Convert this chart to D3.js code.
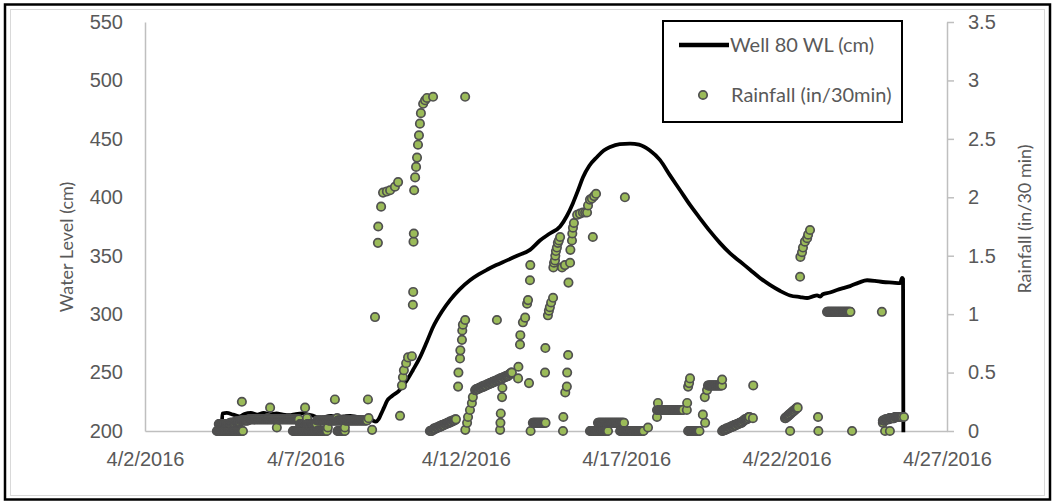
<!DOCTYPE html>
<html>
<head>
<meta charset="utf-8">
<script src="https://cdn.jsdelivr.net/npm/d3@7"></script>
<style>
  html, body { margin: 0; padding: 0; background: #fff; }
  svg { display: block; font-family: Lato, "Open Sans", sans-serif; }
</style>
</head>
<body>
<svg id="chart" width="1054" height="504"></svg>
<script>
// ---- data -------------------------------------------------------------
// Time is given as days (fractional) after 4/2/2016 00:00.
const dateTickLabels = ["4/2/2016", "4/7/2016", "4/12/2016", "4/17/2016", "4/22/2016", "4/27/2016"];
const levelTicks = [200, 250, 300, 350, 400, 450, 500, 550];
const rainTicks = [0, 0.5, 1, 1.5, 2, 2.5, 3, 3.5];

// Well 80 water level, [day, cm]
const wellLevel = [
  [2.40,207],[2.41,215],[2.55,215.5],[2.75,214],[2.95,212.5],[3.10,214.5],[3.30,215.5],[3.50,214],
  [3.70,215.5],[3.90,214.5],[4.10,215],[4.30,214],[4.50,213.5],[4.70,214.5],[4.90,215],[5.10,214],
  [5.30,212.5],[5.45,210.5],[5.60,212],[5.80,213],[6.00,212],[6.20,212.5],[6.40,213],[6.60,212],
  [6.80,211.5],[7.00,211],[7.10,209],[7.20,208],[7.28,210],[7.35,214],[7.45,220],[7.55,226],
  [7.70,230],[7.90,234],[8.17,243.6],[8.35,252],[8.57,263],[8.78,276],[8.98,289],[9.25,302],
  [9.51,312],[9.80,321],[10.13,329],[10.40,334],[10.66,338],[10.95,342],[11.28,346],[11.60,350],
  [12.00,355],[12.31,363],[12.62,369],[12.94,375],[13.15,384],[13.34,395],[13.50,406],[13.65,417],
  [13.85,427],[14.09,434.5],[14.30,440],[14.50,443],[14.80,445.5],[15.12,446],[15.40,445],[15.74,440],
  [16.05,432],[16.36,419],[16.68,406],[17.00,393],[17.30,382],[17.61,371],[17.92,361],[18.24,352],
  [18.55,345],[18.86,338],[19.17,331],[19.48,325],[19.79,320],[20.11,316],[20.42,314.6],[20.64,313.8],
  [20.80,315],[20.95,316],[21.05,315],[21.13,317],[21.35,318.5],[21.57,320.7],[21.80,322.5],
  [21.98,324],[22.25,327],[22.51,329],[22.75,328.5],[23.00,327.5],[23.30,327],[23.54,326.6],[23.60,331],
  [23.63,330],[23.64,199]
];

// Rainfall single readings, [day, in/30min]
const rainReadings = [
  [3.02,0.25],[3.83,0.11],[3.90,0.20],[4.11,0.03],[4.99,0.20],[5.05,0.11],[5.70,0.03],[5.92,0.27],
  [5.99,0.11],[6.23,0.03],[6.95,0.27],[6.97,0.11],[7.08,0.01],[7.95,0.13],
  [7.17,0.975],[7.26,1.61],[7.27,1.75],[7.36,1.92],[7.42,2.04],[7.54,2.05],[7.64,2.06],[7.79,2.09],
  [7.89,2.13],[8.01,0.39],[8.04,0.46],[8.07,0.52],[8.14,0.58],[8.20,0.63],[8.32,0.64],[8.35,1.08],
  [8.36,1.19],[8.37,1.62],[8.38,1.69],[8.39,2.06],[8.42,2.17],[8.45,2.26],[8.48,2.34],[8.51,2.45],
  [8.54,2.53],[8.57,2.63],[8.60,2.72],[8.67,2.80],[8.73,2.83],[8.79,2.85],[8.98,2.86],[9.98,2.86],
  [9.76,0.38],[9.77,0.50],[9.82,0.62],[9.83,0.69],[9.88,0.78],[9.89,0.86],[9.91,0.91],[9.98,0.95],
  [9.985,0.01],[10.04,0.07],[10.07,0.12],[10.13,0.18],[10.19,0.24],[10.22,0.29],[10.97,0.95],
  [11.07,0.01],[11.08,0.07],[11.09,0.15],[11.13,0.29],[11.14,0.37],[11.63,0.45],[11.64,0.55],[11.69,0.74],
  [11.70,0.82],[11.78,0.93],[11.85,0.97],[11.91,1.09],[11.94,1.12],[11.97,0.41],[12.00,1.29],[12.01,1.42],
  [12.02,0],[12.47,0.5],[12.48,0.71],[12.56,0.99],[12.59,1.03],[12.62,1.06],[12.66,1.10],[12.72,1.14],
  [12.73,1.40],[12.75,1.44],[12.78,1.46],[12.79,1.50],[12.81,1.54],[12.84,1.57],[12.87,1.61],[12.90,1.63],
  [12.94,1.66],[13.00,1.40],[13.03,0],[13.04,0.12],[13.09,1.42],[13.10,0.33],[13.15,0.38],[13.16,0.5],
  [13.19,0.65],[13.20,1.27],[13.25,1.44],[13.26,1.55],[13.31,1.63],[13.32,1.69],[13.34,1.74],[13.37,1.78],
  [13.47,1.85],[13.56,1.86],[13.65,1.87],[13.72,1.87],[13.78,1.87],[13.81,1.93],[13.87,1.98],[13.93,1.99],
  [13.96,1.66],[14.00,2.01],[14.06,2.03],[14.96,2.0],
  [15.68,0.03],[15.96,0.12],[15.99,0.24],[16.89,0.18],[16.90,0.24],[16.93,0.38],[16.96,0.41],[16.99,0.45],
  [17.39,0.14],[17.45,0.29],[17.46,0.07],[17.52,0.35],[17.99,0.44],[18.95,0.11],[18.96,0.39],
  [20.11,0],[20.42,1.32],[20.43,1.49],[20.48,1.53],[20.51,1.57],[20.57,1.62],[20.64,1.65],[20.67,1.68],
  [20.73,1.72],[20.98,0.12],[20.99,0],[22.04,0],[22.97,1.02],[23.00,0.07],[23.07,0],[23.22,0],[23.66,0.12]
];

// Rainfall logged every 30 minutes during longer stretches, [start day, values...]
const rainHalfHourly = [
  [2.24, [0,0,0,0,0,0,0,0,0,0,0,0,0,0,0,0,0,0,0,0,0,0,0,0,0,0,0,0,0,0,0,0,0,0,0,0,0,0,0,0]],
  [2.30, [0.06,0.06,0.06,0.06,0.06,0.06,0.06,0.06,0.06,0.06,0.06,0.06,0.06,0.06,0.06,0.06,0.06,0.06,0.06,0.06]],
  [2.65, [0.07,0.07,0.07,0.07,0.07,0.07,0.07,0.07,0.08,0.08,0.08,0.08,0.08,0.08,0.08,0.08,0.09,0.09,0.09,0.09,0.09,0.09,
          0.09,0.09,0.09,0.09,0.09,0.09,0.1,0.1,0.1,0.1,0.1,0.1,0.1,0.1,
          0.1,0.1,0.1,0.1,0.1,0.1,0.1,0.1,0.1,0.1,0.1,0.1,0.1,0.1,0.1,0.1,0.1,0.1,0.1,0.1,
          0.1,0.1,0.1,0.1,0.1,0.1,0.1,0.1,0.1,0.1,0.1,0.1,0.1,0.1,0.1,0.1,0.1,0.1,0.1,0.1,
          0.1,0.1,0.1,0.1,0.1,0.1,0.1,0.1,0.1,0.1,0.1,0.1,0.1,0.1,0.1,0.1,0.1,0.1,0.1,0.1,
          0.1,0.1,0.1,0.1,0.1,0.1,0.1,0.1]],
  [4.61, [0,0,0,0,0,0,0,0,0,0,0,0,0,0,0,0,0,0,0,0,0,0,0,0,0,0,0,0,0,0,0,0,0,0,0,0,0,0,0,0,0,0,0,0,0,0,0,0,0,0,0,0]],
  [4.83, [0.06,0.06,0.06,0.06,0.06,0.06,0.06,0.06,0.06,0.06,0.06,0.06,0.06,
          0.06,0.06,0.06,0.06,0.06,0.06,0.06,0.06,0.06,0.06,0.06,0.06,0.06]],
  [5.36, [0.09,0.09,0.09,0.09,0.09,0.09,0.09,0.09,0.09,0.09,0.09,0.09,0.09,0.09,0.09,0.09,0.09,0.09,0.09,
          0.09,0.09,0.09,0.09,0.09,0.09,0.09,0.09,0.09,0.09,0.09,0.09,0.09,0.09,0.09,0.09,0.09,0.09,0.09,
          0.09,0.09,0.09,0.09,0.09,0.09,0.09,0.09,0.09,0.09,0.09,0.09,0.09,0.09,0.09,0.09,0.09,0.09,0.09,
          0.09,0.09,0.09,0.09,0.09,0.09,0.09,0.09,0.09,0.09,0.09,0.09,0.09,0.09,0.09,0.09,0.09,0.09,0.09]],
  [6.00, [0,0,0,0,0,0,0,0,0,0,0,0]],
  [8.88, [0,0,0,0,0.01,0.01,0.02,0.02,0.02,0.02,0.03,0.03,0.03,0.03,0.04,0.04,0.04,0.04,0.05,0.05,
          0.05,0.05,0.06,0.06,0.06,0.06,0.07,0.07,0.07,0.07,0.08,0.08,0.08,0.08,0.09,0.09,0.09,0.09,0.1,0.1]],
  [10.29, [0.35,0.35,0.36,0.36,0.36,0.36,0.37,0.37,0.37,0.37,0.38,0.38,0.38,0.38,0.39,0.39,0.39,0.39,
           0.40,0.40,0.40,0.40,0.41,0.41,0.41,0.41,0.42,0.42,0.42,0.42,0.43,0.43,0.43,0.43,0.44,0.44,
           0.44,0.44,0.45,0.45,0.45,0.45,0.46,0.46,0.46,0.46,0.47,0.47,0.47,0.47,0.48,0.48,0.49,0.49,0.50,0.50]],
  [12.09, [0.07,0.07,0.07,0.07,0.07,0.07,0.07,0.07,0.07,0.07,0.07,0.07,0.07,0.07,0.07,0.07,0.07,0.07,0.07,0.07]],
  [13.87, [0,0,0,0,0,0,0,0,0,0,0,0,0,0,0,0,0,0,0,0,0,0,0,0,0,0,0,0]],
  [14.12, [0.07,0.07,0.07,0.07,0.07,0.07,0.07,0.07,0.07,0.07,0.07,0.07,0.07,0.07,0.07,0.07,0.07,0.07,0.07,0.07,
           0.07,0.07,0.07,0.07,0.07,0.07,0.07,0.07,0.07,0.07,0.07,0.07,0.07,0.07,0.07,0.07,0.07,0.07,0.07,0.07]],
  [14.81, [0,0,0,0,0,0,0,0,0,0,0,0,0,0,0,0,0,0,0,0,0,0,0,0,0,0,0,0,0,0,0,0,0,0,0,0]],
  [15.96, [0.18,0.18,0.18,0.18,0.18,0.18,0.18,0.18,0.18,0.18,0.18,0.18,0.18,0.18,0.18,0.18,0.18,0.18,0.18,0.18,
           0.18,0.18,0.18,0.18,0.18,0.18,0.18,0.18,0.18,0.18,0.18,0.18,0.18,0.18,0.18,0.18,0.18,0.18,0.18,0.18]],
  [16.93, [0,0,0,0,0,0,0,0,0,0,0,0,0,0,0,0,0,0]],
  [17.55, [0.39,0.39,0.39,0.39,0.39,0.39,0.39,0.39,0.39,0.39,0.39,0.39,0.39,0.39,0.39,0.39,0.39,0.39,0.39,0.39,0.39,0.39]],
  [17.99, [0,0,0.01,0.01,0.01,0.01,0.02,0.02,0.02,0.02,0.03,0.03,0.03,0.03,0.04,0.04,0.04,0.04,0.05,0.05,0.05,
           0.05,0.06,0.06,0.06,0.06,0.07,0.07,0.07,0.07,0.08,0.08,0.09,0.09,0.1,0.1,0.1,0.1,0.11,0.11,0.12,0.12]],
  [19.95, [0.11,0.11,0.12,0.12,0.13,0.13,0.14,0.14,0.15,0.15,0.16,0.16,0.17,0.17,0.18,0.18,0.19,0.19,0.2,0.2]],
  [21.26, [1.02,1.02,1.02,1.02,1.02,1.02,1.02,1.02,1.02,1.02,1.02,1.02,1.02,1.02,1.02,1.02,1.02,1.02,
           1.02,1.02,1.02,1.02,1.02,1.02,1.02,1.02,1.02,1.02,1.02,1.02,1.02,1.02,1.02,1.02,1.02,1.02]],
  [23.00, [0.09,0.09,0.09,0.09,0.10,0.10,0.10,0.10,0.10,0.10,0.11,0.11,0.11,0.11,0.11,0.11,0.11,0.11,
           0.12,0.12,0.12,0.12,0.12,0.12,0.12,0.12,0.12,0.12,0.12,0.12]]
];

// ---- layout -----------------------------------------------------------
const svg = d3.select("#chart");
const textColor = "#595959";
const axisColor = "#bfbfbf";
const DAY = 864e5;
const t0 = Date.UTC(2016, 3, 2);
const toDate = d => new Date(t0 + d * DAY);
const parseTick = d3.utcParse("%m/%d/%Y");
const dateTicks = dateTickLabels.map(parseTick);

const plot = { left: 145, right: 947, top: 22, bottom: 431 };

const x = d3.scaleUtc().domain([dateTicks[0], dateTicks[dateTicks.length - 1]]).range([plot.left, plot.right]);
const yLevel = d3.scaleLinear().domain([200, 550]).range([plot.bottom, plot.top]);
const yRain = d3.scaleLinear().domain([0, 3.5]).range([plot.bottom, plot.top]);

// chart frame
svg.append("rect").attr("x", 0).attr("y", 0).attr("width", 1054).attr("height", 504).attr("fill", "#fff");
svg.append("rect").attr("x", 10.5).attr("y", 9.5).attr("width", 1034).attr("height", 486)
  .attr("fill", "none").attr("stroke", "#d9d9d9").attr("stroke-width", 1);
svg.append("rect").attr("x", 5).attr("y", 4.5).attr("width", 1045).attr("height", 495)
  .attr("fill", "none").attr("stroke", "#000").attr("stroke-width", 2.5);

// axes
const tickFont = 20;
function styleAxis(g) {
  g.select(".domain").attr("stroke", axisColor).attr("stroke-width", 1.5);
  g.selectAll(".tick line").attr("stroke", axisColor).attr("stroke-width", 1.5);
  g.selectAll(".tick text").attr("fill", textColor).attr("font-size", tickFont);
}

svg.append("g")
  .attr("transform", `translate(${plot.left},0)`)
  .call(d3.axisLeft(yLevel).tickValues(levelTicks).tickSize(0).tickSizeOuter(0).tickPadding(22))
  .call(styleAxis);

svg.append("g")
  .attr("transform", `translate(${plot.right},0)`)
  .call(d3.axisRight(yRain).tickValues(rainTicks).tickSize(7).tickSizeOuter(0).tickPadding(14)
    .tickFormat(d => String(d)))
  .call(styleAxis);

svg.append("g")
  .attr("transform", `translate(0,${plot.bottom})`)
  .call(d3.axisBottom(x).tickValues(dateTicks).tickSize(0).tickSizeOuter(0).tickPadding(21)
    .tickFormat(d3.utcFormat("%-m/%-d/%Y")))
  .call(styleAxis);

// axis titles
svg.append("text")
  .attr("transform", "translate(73,247) rotate(-90)")
  .attr("text-anchor", "middle").attr("fill", textColor).attr("font-size", 18)
  .text("Water Level (cm)");
svg.append("text")
  .attr("transform", "translate(1031,219) rotate(-90)")
  .attr("text-anchor", "middle").attr("fill", textColor).attr("font-size", 18)
  .text("Rainfall (in/30 min)");

// water level line
const line = d3.line()
  .x(d => x(toDate(d[0])))
  .y(d => yLevel(d[1]))
  .curve(d3.curveMonotoneX);
svg.append("path")
  .datum(wellLevel)
  .attr("d", line)
  .attr("fill", "none")
  .attr("stroke", "#000")
  .attr("stroke-width", 3.8)
  .attr("stroke-linejoin", "round");

// rainfall markers, drawn in time order
const rain = [];
rainReadings.forEach(([d, v]) => rain.push({ t: d, v }));
rainHalfHourly.forEach(([d0, vals]) => vals.forEach((v, i) => rain.push({ t: d0 + i / 48, v })));
rain.sort((a, b) => a.t - b.t);

const markerFill = "#9bbb59", markerStroke = "#505050";
svg.append("g").selectAll("circle")
  .data(rain)
  .join("circle")
  .attr("cx", d => x(toDate(d.t)))
  .attr("cy", d => yRain(d.v))
  .attr("r", 4.2)
  .attr("fill", markerFill)
  .attr("stroke", markerStroke)
  .attr("stroke-width", 1.7);

// legend
const lg = svg.append("g");
lg.append("rect").attr("x", 663).attr("y", 21).attr("width", 239).attr("height", 101)
  .attr("fill", "#fff").attr("stroke", "#000").attr("stroke-width", 2);
lg.append("line").attr("x1", 679).attr("x2", 729).attr("y1", 45).attr("y2", 45)
  .attr("stroke", "#000").attr("stroke-width", 4.5);
lg.append("text").attr("x", 730).attr("y", 52).attr("fill", textColor).attr("font-size", 20)
  .text("Well 80 WL (cm)");
lg.append("circle").attr("cx", 703).attr("cy", 95).attr("r", 4.2)
  .attr("fill", markerFill).attr("stroke", markerStroke).attr("stroke-width", 1.7);
lg.append("text").attr("x", 731).attr("y", 102).attr("fill", textColor).attr("font-size", 20)
  .text("Rainfall (in/30min)");
</script>
</body>
</html>
